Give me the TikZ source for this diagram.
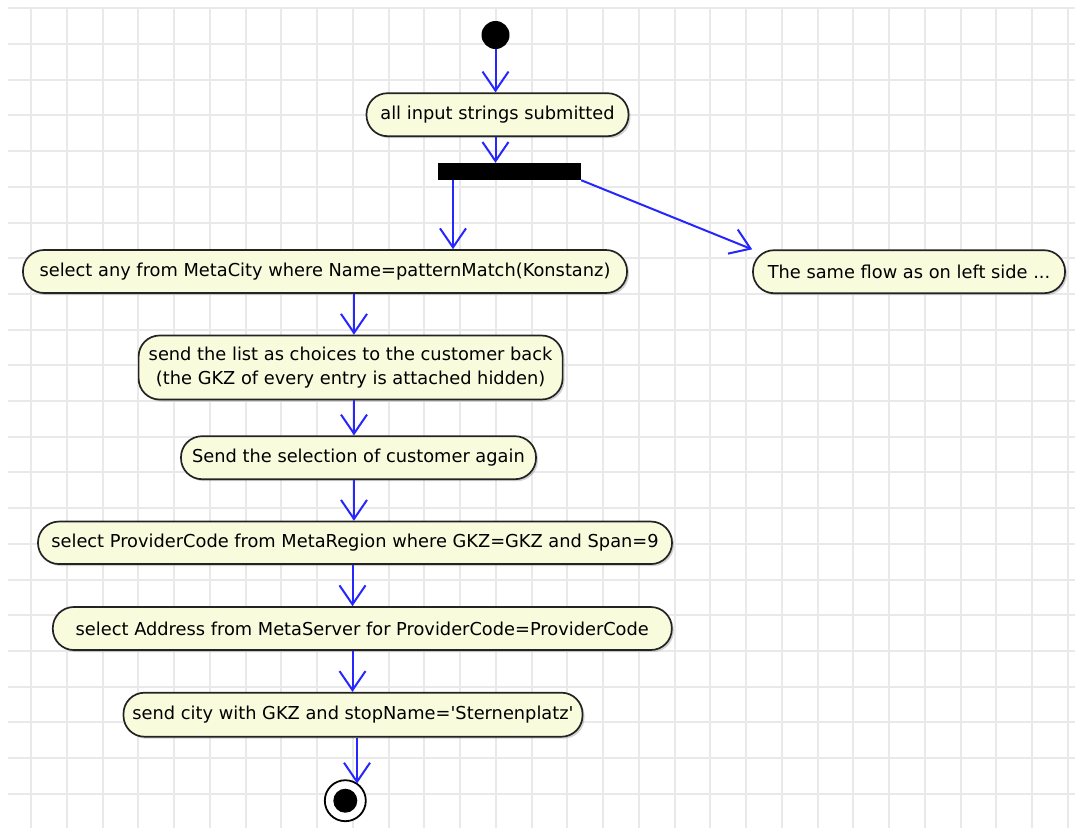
\documentclass[tikz,border=0pt]{standalone}
\usepackage{fontspec}
\setmainfont{DejaVu Sans}
\usetikzlibrary{arrows.meta,shadows}
\definecolor{gridgray}{RGB}{233,233,233}
\definecolor{actfill}{RGB}{249,251,221}
\definecolor{actborder}{RGB}{35,35,35}
\definecolor{flowblue}{RGB}{38,38,255}
\begin{document}
\begin{tikzpicture}[x=1pt,y=-1pt,
  action/.style={draw=actborder, line width=1.7pt, fill=actfill,
    rounded corners=21pt, inner sep=0pt, minimum height=43pt,
    font=\fontsize{17.8}{24}\selectfont, align=center,
    drop shadow={shadow xshift=2pt, shadow yshift=-2pt, opacity=0.35}},
  flow/.style={draw=flowblue, line width=2pt,
    -{Straight Barb[length=19pt,width=26pt,line width=2pt]}},
  gridline/.style={draw=gridgray, line width=2pt}
]
% paper and grid
\fill[white] (0,0) rectangle (1075,828);
\useasboundingbox (0,0) rectangle (1075,828);
\foreach \k in {0,...,29}
  \draw[gridline] ({31+35.75*\k},8) -- ({31+35.75*\k},828);
\foreach \k in {0,...,22}
  \draw[gridline] (8,{8.3+35.7*\k}) -- (1075,{8.3+35.7*\k});

% initial node, fork bar and actions
\node[circle, fill=black, minimum size=28pt, inner sep=0pt] (start) at (495.5,35) {};
\node[action, minimum width=262pt] (a1) at (497.5,114.7) {all input strings submitted};
\node[fill=black, minimum width=143pt, minimum height=17pt, inner sep=0pt] (fork) at (509.5,171.5) {};
\node[action, minimum width=604pt] (a2) at (325,271.5)
  {select any from MetaCity where Name=patternMatch(Konstanz)};
\node[action, minimum width=312pt] (same) at (909,271.7) {The same flow as on left side ...};
\node[action, minimum width=424pt, minimum height=64pt] (a3) at (350.6,367.5)
  {send the list as choices to the customer back\\(the GKZ of every entry is attached hidden)};
\node[action, minimum width=355pt] (a4) at (358.5,457.7) {Send the selection of customer again};
\node[action, minimum width=634pt, minimum height=42.5pt] (a5) at (355,542.8)
  {select ProviderCode from MetaRegion where GKZ=GKZ and Span=9};
\node[action, minimum width=619pt] (a6) at (362.3,628.5)
  {select Address from MetaServer for ProviderCode=ProviderCode};
\node[action, minimum width=459pt, minimum height=44pt] (a7) at (353,714.7)
  {send city with GKZ and stopName=\textquotesingle Sternenplatz\textquotesingle};

% final node
\node[circle, draw=black, line width=1.8pt, fill=white, minimum size=41pt, inner sep=0pt] (stop) at (345.3,800.7) {};
\node[circle, fill=black, minimum size=24pt, inner sep=0pt] (stopdot) at (stop) {};

% columns the flows run along
\coordinate (forkcol) at (453,0);
\coordinate (spine) at (354,0);
\coordinate (spinelow) at (352.5,0);
\coordinate (stoptip) at (357,783.5);

% flows
\draw[flow] (start.south) -- (start.south |- a1.north);
\draw[flow] (a1.south -| start) -- (fork.north -| start);
\draw[flow] (fork.south -| forkcol) -- (a2.north -| forkcol);
\draw[flow] (fork.south east) -- (same.north west);
\draw[flow] (a2.south -| spine) -- (a3.north -| spine);
\draw[flow] (a3.south -| spine) -- (a4.north -| spine);
\draw[flow] (a4.south -| spine) -- (a5.north -| spine);
\draw[flow] (a5.south -| spinelow) -- (a6.north -| spinelow);
\draw[flow] (a6.south -| spinelow) -- (a7.north -| spinelow);
\draw[flow] (a7.south -| stoptip) -- (stoptip);
\end{tikzpicture}
\end{document}
